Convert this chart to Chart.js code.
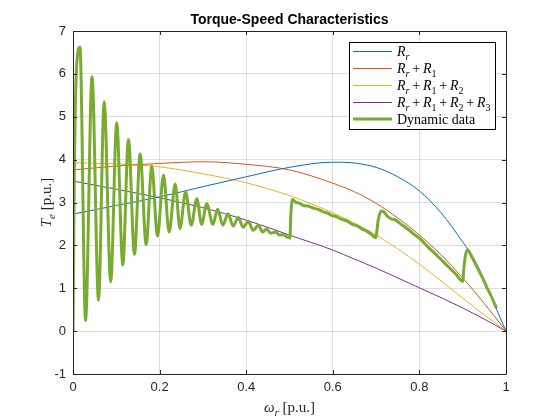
<!DOCTYPE html>
<html><head><meta charset="utf-8">
<script src="https://cdn.jsdelivr.net/npm/chart.js@4/dist/chart.umd.min.js"></script>
<style>html,body{margin:0;padding:0;background:#fff}</style>
</head><body>
<canvas id="c" width="560" height="420"></canvas>
<script>
// ---- data ----
const omegaSteady = [0, 0.1, 0.2, 0.3, 0.4, 0.5, 0.6, 0.65, 0.7, 0.75, 0.8, 0.85, 0.9, 0.925, 0.95, 0.975, 1];
const torqueRr       = [2.73, 2.93, 3.13, 3.37, 3.60, 3.82, 3.94, 3.92, 3.82, 3.60, 3.27, 2.76, 2.08, 1.70, 1.18, 0.58, 0];
const torqueRrR1     = [3.76, 3.85, 3.91, 3.95, 3.89, 3.76, 3.45, 3.25, 2.98, 2.64, 2.24, 1.78, 1.24, 0.95, 0.64, 0.33, 0];
const torqueRrR1R2   = [3.93, 3.90, 3.83, 3.67, 3.46, 3.16, 2.76, 2.52, 2.24, 1.92, 1.56, 1.17, 0.77, 0.57, 0.38, 0.19, 0];
const torqueRrR1R2R3 = [3.50, 3.31, 3.11, 2.88, 2.59, 2.24, 1.89, 1.68, 1.47, 1.24, 1.01, 0.78, 0.54, 0.41, 0.28, 0.14, 0];

const omegaDynamic = [0, 0.003, 0.008, 0.016, 0.029, 0.044, 0.059, 0.072, 0.087, 0.101, 0.115, 0.128, 0.142, 0.155, 0.169,
  0.182, 0.195, 0.209, 0.222, 0.236, 0.247, 0.26, 0.273, 0.286, 0.297, 0.309, 0.323, 0.334, 0.346, 0.358, 0.37, 0.382,
  0.393, 0.405, 0.416, 0.428, 0.438, 0.447, 0.457, 0.467, 0.478, 0.486, 0.494, 0.501, 0.503, 0.507, 0.515, 0.522, 0.532,
  0.542, 0.555, 0.566, 0.578, 0.588, 0.597, 0.608, 0.62, 0.632, 0.645, 0.655, 0.668, 0.68, 0.69, 0.699, 0.705, 0.712,
  0.718, 0.726, 0.735, 0.745, 0.758, 0.771, 0.785, 0.803, 0.82, 0.84, 0.855, 0.871, 0.885, 0.9, 0.903, 0.907, 0.912,
  0.92, 0.932, 0.945, 0.955, 0.967, 0.978];
const torqueDynamic = [0, 3.6, 6.1, 6.62, 0.25, 5.93, 0.72, 5.35, 1.15, 4.86, 1.54, 4.47, 1.79, 4.13, 2.02,
  3.85, 2.21, 3.64, 2.31, 3.43, 2.39, 3.25, 2.47, 3.09, 2.49, 2.97, 2.49, 2.84, 2.47, 2.74, 2.45, 2.65,
  2.42, 2.56, 2.35, 2.47, 2.31, 2.38, 2.28, 2.31, 2.24, 2.25, 2.20, 2.17, 2.7, 3.07, 3.00, 2.99, 2.93,
  2.92, 2.87, 2.84, 2.78, 2.75, 2.70, 2.67, 2.61, 2.57, 2.49, 2.46, 2.38, 2.32, 2.25, 2.18, 2.6, 2.80,
  2.78, 2.68, 2.62, 2.59, 2.49, 2.40, 2.28, 2.14, 1.96, 1.77, 1.62, 1.46, 1.32, 1.16, 1.5, 1.8, 1.89,
  1.75, 1.52, 1.26, 1.04, 0.79, 0.53];

const seriesLabels = ['R_r', 'R_r + R_1', 'R_r + R_1 + R_2', 'R_r + R_1 + R_2 + R_3', 'Dynamic data'];
const chartTitle = 'Torque-Speed Characteristics';
const xTickValues = [0, 0.2, 0.4, 0.6, 0.8, 1];
const yTickValues = [-1, 0, 1, 2, 3, 4, 5, 6, 7];

// ---- styling ----
const colors = ['#0072BD', '#D95319', '#EDB120', '#7E2F8E', '#77AC30'];
const AX = '#262626';
const SERIF = '"Liberation Serif", "Times New Roman", serif';
const SANS = '"Liberation Sans", Arial, Helvetica, sans-serif';

function pts(xs, ys) { return xs.map((x, i) => ({x: x, y: ys[i]})); }

function mathSegs(expr, size) {
  const segs = [];
  expr.split(' ').forEach((tok, i) => {
    if (i > 0) segs.push({t: '\u2009', f: `${size}px ${SERIF}`, dy: 0});
    if (tok === '+') { segs.push({t: '+', f: `${size}px ${SERIF}`, dy: 0}); return; }
    const parts = tok.split('_');
    segs.push({t: parts[0], f: `italic ${size}px ${SERIF}`, dy: 0});
    if (parts[1]) {
      const dig = /\d/.test(parts[1]);
      segs.push({t: parts[1], f: `${dig ? '' : 'italic '}${Math.round(size * 0.72)}px ${SERIF}`, dy: size * 0.25});
    }
  });
  return segs;
}
function labelSegs(lbl, size) {
  if (lbl.indexOf('_') >= 0) return mathSegs(lbl, size);
  return [{t: lbl, f: `${size}px ${SERIF}`, dy: 0}];
}
function drawSegs(ctx, segs, x, y, align) {
  let w = 0;
  segs.forEach(s => { ctx.font = s.f; s.w = ctx.measureText(s.t).width; w += s.w; });
  let cx = align === 'center' ? x - w / 2 : x;
  ctx.textAlign = 'left'; ctx.textBaseline = 'alphabetic';
  segs.forEach(s => { ctx.font = s.f; ctx.fillText(s.t, cx, y + s.dy); cx += s.w; });
}

const decor = {
  id: 'decor',
  afterDraw(chart) {
    const ctx = chart.ctx, a = chart.chartArea;
    const xs = chart.scales.x, ys = chart.scales.y;
    ctx.save();
    // box + inward ticks
    ctx.strokeStyle = AX; ctx.lineWidth = 1;
    ctx.beginPath();
    ctx.rect(Math.round(a.left) + 0.5, Math.round(a.top) + 0.5, Math.round(a.right - a.left), Math.round(a.bottom - a.top));
    xTickValues.forEach(v => {
      const p = Math.round(xs.getPixelForValue(v)) + 0.5;
      ctx.moveTo(p, a.bottom); ctx.lineTo(p, a.bottom - 4);
      ctx.moveTo(p, a.top); ctx.lineTo(p, a.top + 4);
    });
    yTickValues.forEach(v => {
      const p = Math.round(ys.getPixelForValue(v)) + 0.5;
      ctx.moveTo(a.left, p); ctx.lineTo(a.left + 4, p);
      ctx.moveTo(a.right, p); ctx.lineTo(a.right - 4, p);
    });
    ctx.stroke();

    // title
    ctx.fillStyle = '#000';
    ctx.font = `bold 14px ${SANS}`;
    ctx.textAlign = 'center'; ctx.textBaseline = 'alphabetic';
    ctx.fillText(chartTitle, (a.left + a.right) / 2, 24);

    // axis labels
    ctx.fillStyle = AX;
    drawSegs(ctx, [
      {t: '\u03C9', f: `italic 15px ${SERIF}`, dy: 0},
      {t: 'r', f: `italic 11px ${SERIF}`, dy: 3.5},
      {t: ' [p.u.]', f: `15px ${SERIF}`, dy: 0}
    ], (a.left + a.right) / 2, 412, 'center');
    ctx.save();
    ctx.translate(51, (a.top + a.bottom) / 2);
    ctx.rotate(-Math.PI / 2);
    drawSegs(ctx, [
      {t: 'T', f: `italic 15px ${SERIF}`, dy: 0},
      {t: 'e', f: `italic 11px ${SERIF}`, dy: 3.5},
      {t: ' [p.u.]', f: `15px ${SERIF}`, dy: 0}
    ], 0, 0, 'center');
    ctx.restore();

    // legend
    const bx = 349.5, by = 42.5, bw = 146, bh = 87;
    ctx.fillStyle = '#fff';
    ctx.fillRect(bx, by, bw, bh);
    ctx.strokeStyle = '#000'; ctx.lineWidth = 1;
    ctx.strokeRect(bx, by, bw, bh);
    seriesLabels.forEach((lbl, i) => {
      const cy = Math.round(51 + i * 17.1);
      ctx.strokeStyle = colors[i];
      ctx.lineWidth = i === 4 ? 3 : 1;
      const ly = i === 4 ? cy : cy + 0.5;
      ctx.beginPath(); ctx.moveTo(353, ly); ctx.lineTo(392, ly); ctx.stroke();
      ctx.fillStyle = '#000';
      drawSegs(ctx, labelSegs(lbl, 14), 397, cy + 5, 'left');
    });
    ctx.restore();
  }
};

const ds = (label, xs, ysv, i, w, order) => ({
  label: label, data: pts(xs, ysv), borderColor: colors[i], backgroundColor: colors[i],
  borderWidth: w, pointRadius: 0, fill: false, cubicInterpolationMode: 'monotone', order: order
});

new Chart(document.getElementById('c'), {
  type: 'line',
  data: {
    datasets: [
      ds(seriesLabels[0], omegaSteady, torqueRr, 0, 1, 2),
      ds(seriesLabels[1], omegaSteady, torqueRrR1, 1, 1, 2),
      ds(seriesLabels[2], omegaSteady, torqueRrR1R2, 2, 1, 2),
      ds(seriesLabels[3], omegaSteady, torqueRrR1R2R3, 3, 1, 2),
      ds(seriesLabels[4], omegaDynamic, torqueDynamic, 4, 3, 0)
    ]
  },
  options: {
    responsive: false, animation: false, devicePixelRatio: 1,
    layout: {padding: {top: 31, right: 54, left: 0, bottom: 0}},
    plugins: {legend: {display: false}, tooltip: {enabled: false}, title: {display: false}},
    scales: {
      x: {
        type: 'linear', min: 0, max: 1,
        afterBuildTicks: s => { s.ticks = xTickValues.map(v => ({value: v})); },
        afterFit: s => { s.height = 46; },
        grid: {color: 'rgba(38,38,38,0.15)', drawTicks: false},
        border: {display: false},
        ticks: {color: AX, font: {family: SANS, size: 13}, padding: 6, maxRotation: 0,
                callback: v => String(v)}
      },
      y: {
        type: 'linear', min: -1, max: 7,
        afterBuildTicks: s => { s.ticks = yTickValues.map(v => ({value: v})); },
        afterFit: s => { s.width = 73; },
        grid: {color: 'rgba(38,38,38,0.15)', drawTicks: false},
        border: {display: false},
        ticks: {color: AX, font: {family: SANS, size: 13}, padding: 7, callback: v => String(v)}
      }
    }
  },
  plugins: [decor]
});
</script>
</body></html>
